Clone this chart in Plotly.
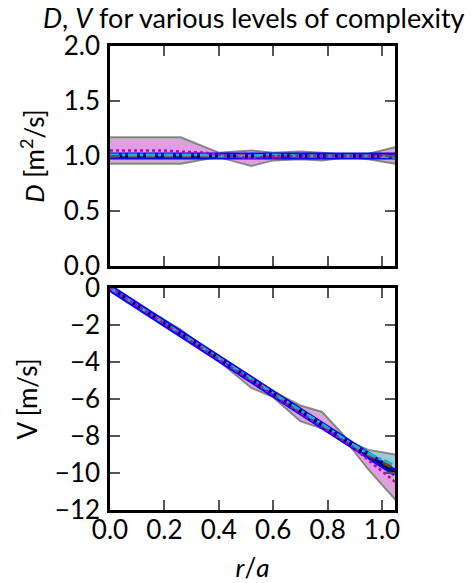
import plotly.graph_objects as go

# ---- data ----
r = [0, 0.1, 0.2, 0.26, 0.35, 0.4, 0.52, 0.6, 0.7, 0.78, 0.88, 0.95, 1.05]

D_true = [1.0] * 13
D_gray_hi = [1.17, 1.17, 1.17, 1.17, 1.08, 1.03, 1.05, 1.03, 1.04, 1.03, 1.01, 1.02, 1.08]
D_gray_lo = [0.93, 0.93, 0.93, 0.93, 0.97, 0.99, 0.91, 0.96, 0.97, 0.96, 0.99, 0.97, 0.93]
D_mag_hi = [1.15, 1.15, 1.15, 1.15, 1.07, 1.02, 1.04, 1.02, 1.03, 1.02, 1.01, 1.01, 1.05]
D_mag_lo = [0.95, 0.95, 0.95, 0.95, 0.98, 0.99, 0.92, 0.97, 0.98, 0.97, 0.99, 0.98, 0.95]
D_cyan_hi = [1.03, 1.03, 1.03, 1.03, 1.02, 1.02, 1.02, 1.02, 1.02, 1.02, 1.01, 1.02, 1.03]
D_cyan_lo = [0.98, 0.98, 0.98, 0.98, 0.99, 0.99, 0.98, 0.99, 0.99, 0.99, 0.99, 0.99, 0.98]
D_mag = [1.05, 1.05, 1.05, 1.04, 1.03, 1.01, 0.98, 1.0, 1.0, 1.0, 1.0, 1.0, 1.0]
D_red = [1.0, 1.0, 1.0, 1.0, 1.0, 1.0, 1.01, 0.99, 1.0, 1.0, 1.0, 1.0, 1.0]
D_cyan = [1.01, 1.01, 1.01, 1.01, 1.01, 1.0, 1.0, 1.01, 1.0, 1.0, 1.0, 1.0, 0.99]
D_green = [1.0] * 13

V_true = [0, -0.95, -1.9, -2.48, -3.33, -3.81, -4.95, -5.71, -6.67, -7.43, -8.38, -9.05, -10.0]
V_gray_hi = [0, -0.88, -1.75, -2.25, -3.25, -3.75, -4.8, -5.6, -6.35, -6.7, -8.3, -8.75, -9.0]
V_gray_lo = [0, -1.02, -1.97, -2.55, -3.4, -3.95, -5.4, -5.9, -7.2, -7.6, -8.5, -9.8, -11.45]
V_mag_hi = [0, -0.92, -1.83, -2.4, -3.3, -3.8, -4.85, -5.65, -6.45, -6.85, -8.35, -8.9, -9.3]
V_mag_lo = [0, -0.99, -1.94, -2.52, -3.37, -3.92, -5.3, -5.82, -7.1, -7.55, -8.45, -9.7, -11.3]
V_cyan_hi = [0, -0.92, -1.86, -2.44, -3.29, -3.77, -4.9, -5.66, -6.58, -7.32, -8.35, -8.8, -9.1]
V_cyan_lo = [0, -0.98, -1.94, -2.52, -3.37, -3.85, -5.0, -5.76, -6.78, -7.5, -8.42, -9.3, -10.0]
V_mag = [0, -0.97, -1.93, -2.5, -3.36, -3.86, -5.05, -5.78, -6.75, -7.5, -8.45, -9.3, -10.5]
V_red = [0, -0.93, -1.88, -2.45, -3.3, -3.78, -4.92, -5.68, -6.62, -7.38, -8.38, -9.0, -9.7]
V_cyan = [0, -0.94, -1.89, -2.47, -3.32, -3.8, -4.93, -5.7, -6.6, -7.36, -8.36, -8.95, -9.6]
V_green = [0, -0.95, -1.9, -2.48, -3.33, -3.81, -4.95, -5.71, -6.67, -7.42, -8.38, -9.02, -9.8]

x_ticks = [0.0, 0.2, 0.4, 0.6, 0.8, 1.0]
x_tick_text = ["0.0", "0.2", "0.4", "0.6", "0.8", "1.0"]
D_ticks = [0.0, 0.5, 1.0, 1.5, 2.0]
D_tick_text = ["0.0", "0.5", "1.0", "1.5", "2.0"]
V_ticks = [0, -2, -4, -6, -8, -10, -12]
V_tick_text = ["0", "\u22122", "\u22124", "\u22126", "\u22128", "\u221210", "\u221212"]

FONT = "Lato"

fig = go.Figure()


def add_panel(xa, ya, gh, gl, mh, ml, ch, cl, true, mag, red, cyan, green):
    kw = dict(xaxis=xa, yaxis=ya, showlegend=False, hoverinfo="skip")
    fig.add_trace(go.Scatter(x=r, y=gl, mode="lines", line=dict(color="rgba(110,110,110,0.8)", width=2), **kw))
    fig.add_trace(go.Scatter(x=r, y=gh, mode="lines", line=dict(color="rgba(110,110,110,0.8)", width=2),
                             fill="tonexty", fillcolor="rgba(140,140,140,0.55)", **kw))
    fig.add_trace(go.Scatter(x=r, y=ml, mode="lines", line=dict(width=0), **kw))
    fig.add_trace(go.Scatter(x=r, y=mh, mode="lines", line=dict(width=0),
                             fill="tonexty", fillcolor="rgba(230,150,230,0.85)", **kw))
    fig.add_trace(go.Scatter(x=r, y=cl, mode="lines", line=dict(width=0), **kw))
    fig.add_trace(go.Scatter(x=r, y=ch, mode="lines", line=dict(width=0),
                             fill="tonexty", fillcolor="rgba(120,220,220,0.6)", **kw))
    fig.add_trace(go.Scatter(x=r, y=true, mode="lines", line=dict(color="#0000ff", width=7), **kw))
    fig.add_trace(go.Scatter(x=r, y=true, mode="lines", line=dict(color="black", width=1.5), **kw))
    fig.add_trace(go.Scatter(x=r, y=green, mode="lines", line=dict(color="#008000", width=3, dash="dash"), **kw))
    fig.add_trace(go.Scatter(x=r, y=red, mode="lines", line=dict(color="#ff0000", width=3, dash="dash"), **kw))
    fig.add_trace(go.Scatter(x=r, y=cyan, mode="lines", line=dict(color="#00bfbf", width=3, dash="dashdot"), **kw))
    fig.add_trace(go.Scatter(x=r, y=mag, mode="lines", line=dict(color="#bf00bf", width=2.5, dash="dot"), **kw))


add_panel("x", "y", D_gray_hi, D_gray_lo, D_mag_hi, D_mag_lo, D_cyan_hi, D_cyan_lo,
          D_true, D_mag, D_red, D_cyan, D_green)
add_panel("x2", "y2", V_gray_hi, V_gray_lo, V_mag_hi, V_mag_lo, V_cyan_hi, V_cyan_lo,
          V_true, V_mag, V_red, V_cyan, V_green)

W, H = 472, 583
x0, x1 = 110 / W, 395 / W

axcommon = dict(showgrid=False, zeroline=False, showline=True, linecolor="black", linewidth=2.5,
                mirror="ticks", ticks="inside", ticklen=10, tickwidth=1.5, tickcolor="#555555",
                automargin=False,
                tickfont=dict(family=FONT, size=26, color="black"))
tfont = dict(family=FONT, size=26, color="black")

fig.update_layout(
    width=W, height=H, margin=dict(l=0, r=0, t=0, b=0),
    plot_bgcolor="white", paper_bgcolor="white",
    xaxis=dict(domain=[x0, x1], range=[0, 1.048], anchor="y", tickvals=x_ticks,
               showticklabels=False, **axcommon),
    yaxis=dict(domain=[(H - 266) / H, (H - 46) / H], range=[0, 2], anchor="x",
               tickvals=D_ticks, ticktext=D_tick_text, ticklabelstandoff=2,
               title=dict(text="<i>D</i> [m<sup>2</sup>/s]", font=tfont, standoff=12),
               **axcommon),
    xaxis2=dict(domain=[x0, x1], range=[0, 1.048], anchor="y2", tickvals=x_ticks, ticktext=x_tick_text,
                ticklabelstandoff=-5,
                title=dict(text="<i>r</i>/<i>a</i>", font=tfont, standoff=20),
                **axcommon),
    yaxis2=dict(domain=[(H - 510) / H, (H - 288) / H], range=[-12, 0], anchor="x2",
                tickvals=V_ticks, ticktext=V_tick_text, ticklabelstandoff=2,
                title=dict(text="V [m/s]", font=tfont, standoff=10),
                **axcommon),
    annotations=[dict(text="<i>D</i>, <i>V</i> for various levels of complexity", xref="paper", yref="paper",
                      x=(x0 + x1) / 2 + 2 / W, y=1 - 18 / H, xanchor="center", yanchor="middle", showarrow=False,
                      font=dict(family=FONT, size=27, color="black"))],
)

fig.write_html("out.html")
